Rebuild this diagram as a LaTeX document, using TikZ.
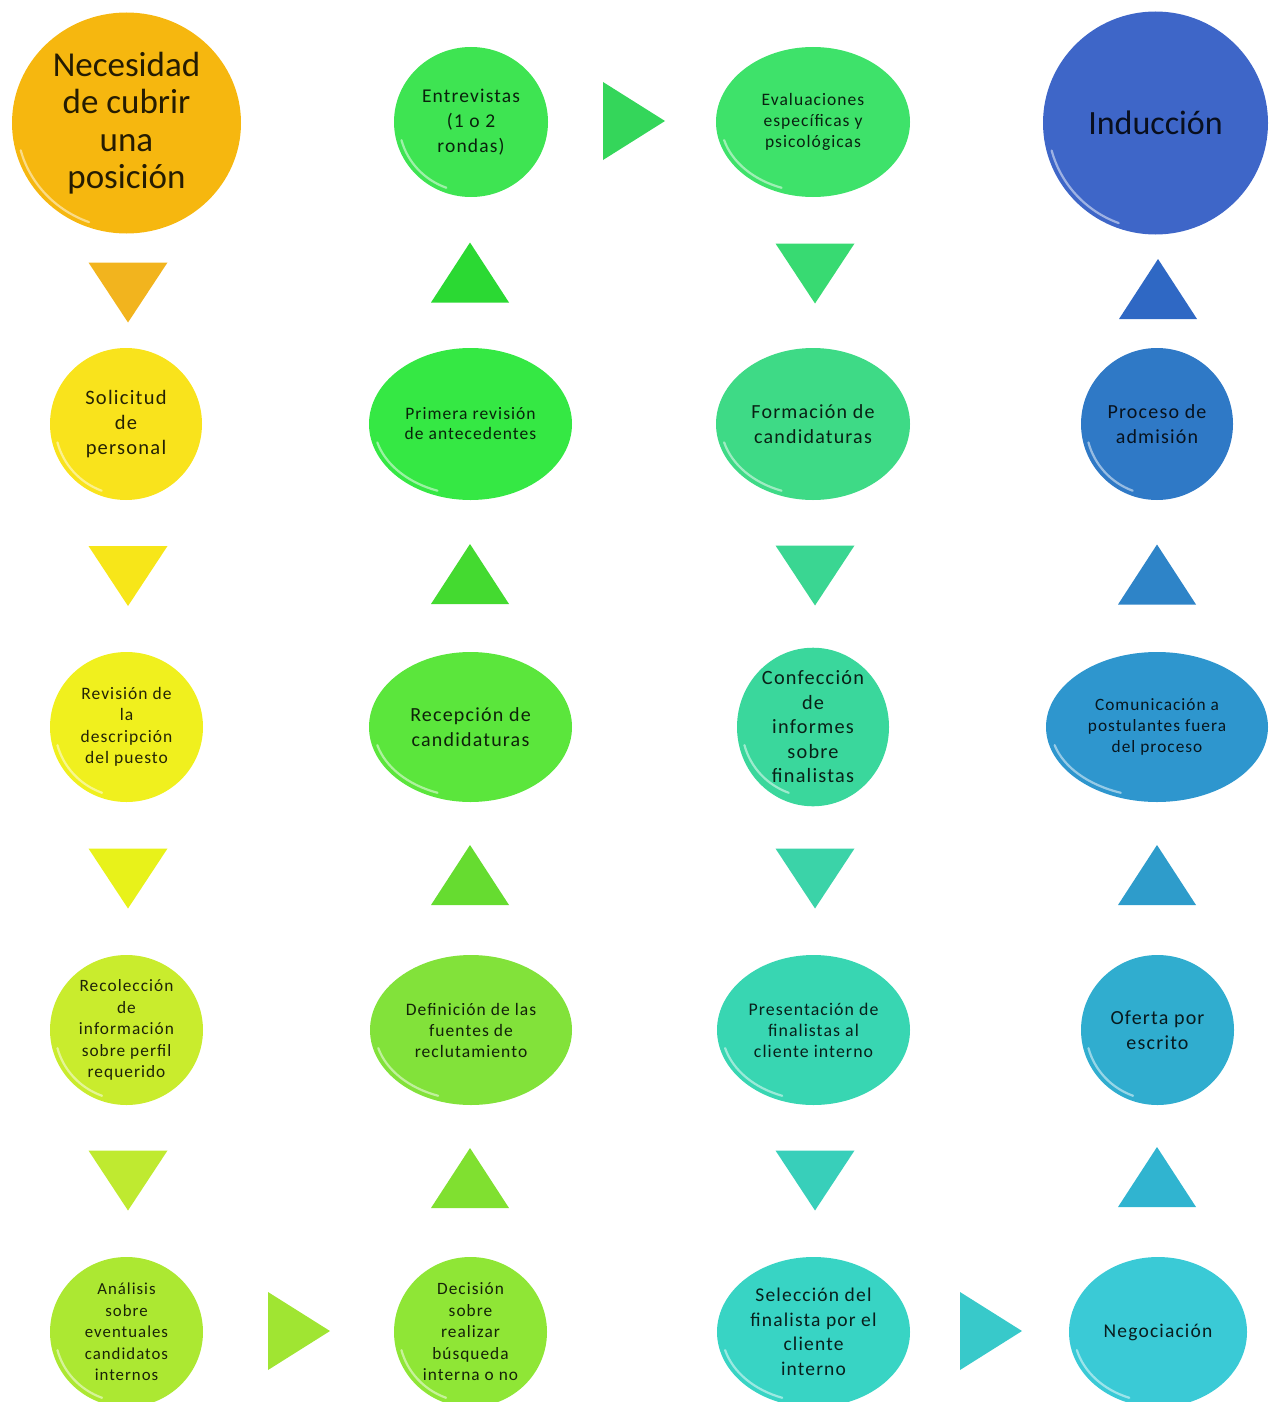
\documentclass[tikz,border=0pt]{standalone}
\usepackage{fontspec}
\setmainfont{Carlito}
\newfontfamily\lsfont{Carlito}[LetterSpace=6]
\usetikzlibrary{calc,shapes.geometric}
\tikzset{
  bub/.style={ellipse, inner sep=0pt, align=center},
  hl/.style={white, opacity=.5, line width=2.2pt, line cap=round},
}
\newcommand\fs[2]{\lsfont\fontsize{#1}{#2}}
% name, x, y, rx, ry, colour, font, text
\newcommand\bub[8]{%
  \node[bub, fill=#6, text=#6!15!black, minimum width=2*#4pt, minimum height=2*#5pt,
        font=#7\selectfont] (#1) at (#2,#3) {#8};
  \pgfmathsetmacro\hrx{#4-5}\pgfmathsetmacro\hry{#5-5}%
  \draw[hl] (#1.center) ++(195:\hrx pt and \hry pt)
     arc[start angle=195, end angle=250, x radius=\hrx pt, y radius=\hry pt];
}
\newcommand\tridown[4]{\coordinate (#1) at (#2,#3);
  \fill[#4] ($(#1)+(-39.5,-30)$) -- ($(#1)+(39.5,-30)$) -- ($(#1)+(0,30)$) -- cycle;}
\newcommand\triup[4]{\coordinate (#1) at (#2,#3);
  \fill[#4] ($(#1)+(-39,30)$) -- ($(#1)+(39,30)$) -- ($(#1)+(0,-30)$) -- cycle;}
\newcommand\triright[4]{\coordinate (#1) at (#2,#3);
  \fill[#4] ($(#1)+(-31,-39)$) -- ($(#1)+(-31,39)$) -- ($(#1)+(31,0)$) -- cycle;}
\definecolor{c01}{HTML}{F6B70F}\definecolor{t01}{HTML}{F2B41E}
\definecolor{c02}{HTML}{F9E31C}\definecolor{t02}{HTML}{F7E619}
\definecolor{c03}{HTML}{F0F01E}\definecolor{t03}{HTML}{E8F21A}
\definecolor{c04}{HTML}{C9EC2D}\definecolor{t04}{HTML}{BFEA30}
\definecolor{c05}{HTML}{ACE832}\definecolor{t05}{HTML}{A0E532}
\definecolor{c06}{HTML}{8FE636}\definecolor{t06}{HTML}{80E030}
\definecolor{c07}{HTML}{82E23A}\definecolor{t07}{HTML}{66DC30}
\definecolor{c08}{HTML}{5BE63C}\definecolor{t08}{HTML}{44DA30}
\definecolor{c09}{HTML}{35E844}\definecolor{t09}{HTML}{2BD933}
\definecolor{c10}{HTML}{3EE452}\definecolor{t10}{HTML}{34D65A}
\definecolor{c11}{HTML}{3EE26A}\definecolor{t11}{HTML}{38DA72}
\definecolor{c12}{HTML}{3EDA86}\definecolor{t12}{HTML}{3AD692}
\definecolor{c13}{HTML}{3AD79C}\definecolor{t13}{HTML}{3BD3A8}
\definecolor{c14}{HTML}{38D6B2}\definecolor{t14}{HTML}{38CFBA}
\definecolor{c15}{HTML}{38D4C4}\definecolor{t15}{HTML}{38C9CA}
\definecolor{c16}{HTML}{3ACAD6}\definecolor{t16}{HTML}{30B4D0}
\definecolor{c17}{HTML}{30ADCF}\definecolor{t17}{HTML}{2E9CCB}
\definecolor{c18}{HTML}{2E96CE}\definecolor{t18}{HTML}{2E84C8}
\definecolor{c19}{HTML}{2F79C6}\definecolor{t19}{HTML}{2F68C4}
\definecolor{c20}{HTML}{3E66C8}
\begin{document}
\begin{tikzpicture}[x=1pt,y=-1pt]
\useasboundingbox (0,0) rectangle (1271,1402);
\clip (0,0) rectangle (1271,1402);
% column 1
\bub{n01}{126.5}{123}{114.5}{110.5}{c01}{\fontsize{35}{37.5}}{Necesidad\\de cubrir\\una\\posición}
\tridown{a01}{128}{292.5}{t01}
\bub{n02}{126}{424}{76}{76}{c02}{\fs{20.5}{25}}{Solicitud\\de\\personal}
\tridown{a02}{128}{576}{t02}
\bub{n03}{126.5}{727}{76.5}{75}{c03}{\fs{17.5}{21.5}}{Revisión de\\la\\descripción\\del puesto}
\tridown{a03}{128}{878.5}{t03}
\bub{n04}{126.5}{1030}{76.5}{75}{c04}{\fs{17.3}{21.5}}{Recolección\\de\\información\\sobre perfil\\requerido}
\tridown{a04}{128}{1180.5}{t04}
\bub{n05}{126.5}{1332}{76.5}{75}{c05}{\fs{16.8}{21.5}}{Análisis\\sobre\\eventuales\\candidatos\\internos}
\triright{a05}{299}{1331}{t05}
% column 2
\bub{n06}{470.5}{1332}{76.5}{75}{c06}{\fs{17.3}{21.5}}{Decisión\\sobre\\realizar\\búsqueda\\interna o no}
\triup{a06}{470}{1178}{t06}
\bub{n07}{471}{1030}{101}{75}{c07}{\fs{17.5}{21}}{Definición de las\\fuentes de\\reclutamiento}
\triup{a07}{470}{875}{t07}
\bub{n08}{470.5}{727}{101.5}{75}{c08}{\fs{20}{25}}{Recepción de\\candidaturas}
\triup{a08}{470}{574}{t08}
\bub{n09}{470.5}{424}{101.5}{76}{c09}{\fs{17.5}{20}}{Primera revisión\\de antecedentes}
\triup{a09}{470}{272.5}{t09}
\bub{n10}{471}{122}{77}{75}{c10}{\fs{19.5}{25}}{Entrevistas\\(1 o 2\\rondas)}
\triright{a10}{634}{121}{t10}
% column 3
\bub{n11}{813}{122}{97}{75}{c11}{\fs{17.5}{21}}{Evaluaciones\\específicas y\\psicológicas}
\tridown{a11}{815}{273.5}{t11}
\bub{n12}{813}{424}{97}{76}{c12}{\fs{20}{25}}{Formación de\\candidaturas}
\tridown{a12}{815}{575.5}{t12}
\bub{n13}{813}{727}{76}{75}{c13}{\fs{20.3}{24.5}}{Confección\\de\\informes\\sobre\\finalistas}
\tridown{a13}{815}{878.5}{t13}
\bub{n14}{813.5}{1030}{96.5}{75}{c14}{\fs{17.8}{21}}{Presentación de\\finalistas al\\cliente interno}
\tridown{a14}{815}{1180.5}{t14}
\bub{n15}{813.5}{1332}{96.5}{75}{c15}{\fs{19.5}{24.5}}{Selección del\\finalista por el\\cliente\\interno}
\triright{a15}{991}{1331}{t15}
% column 4
\bub{n16}{1158}{1332}{89}{75}{c16}{\fs{19.5}{25}}{Negociación}
\triup{a16}{1157}{1177}{t16}
\bub{n17}{1157.5}{1030}{76.5}{75}{c17}{\fs{20}{25}}{Oferta por\\escrito}
\triup{a17}{1157}{875}{t17}
\bub{n18}{1157}{727}{111}{75}{c18}{\fs{17.3}{21}}{Comunicación a\\postulantes fuera\\del proceso}
\triup{a18}{1157}{574.5}{t18}
\bub{n19}{1157}{424}{76}{76}{c19}{\fs{20}{25}}{Proceso de\\admisión}
\triup{a19}{1158}{289}{t19}
\bub{n20}{1155.5}{123}{112.5}{111.5}{c20}{\fontsize{34}{36}}{Inducción}
\end{tikzpicture}
\end{document}
